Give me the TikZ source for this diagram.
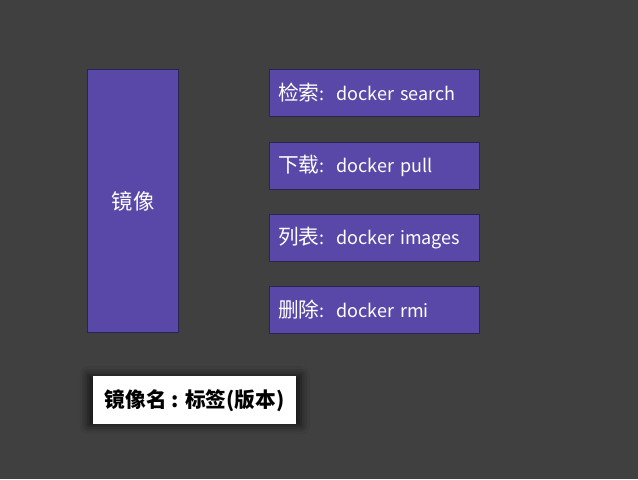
\documentclass[tikz,border=0pt]{standalone}
\usepackage{fontspec}
\setmainfont{Noto Sans CJK SC}
\usetikzlibrary{positioning,shadows.blur}
\definecolor{bgray}{HTML}{404040}
\definecolor{boxpurple}{HTML}{5A48A8}
\definecolor{boxedge}{HTML}{2B2452}
\newcommand{\zh}[1]{{\fontsize{15.5}{16}\selectfont #1}}
\tikzset{
  cmdbox/.style={draw=boxedge, line width=1pt, fill=boxpurple, text=white,
    anchor=north west, minimum width=157.5pt, minimum height=35pt,
    inner xsep=6pt, text width=145pt, align=left, font=\fontsize{13.5}{16}\selectfont},
  imgbox/.style={draw=boxedge, line width=1pt, fill=boxpurple, text=white,
    anchor=north west, minimum width=68pt, minimum height=197pt,
    font=\fontsize{16}{16}\selectfont},
  tagbox/.style={fill=white, text=black, anchor=north west,
    minimum width=152pt, minimum height=36pt, font=\bfseries\fontsize{15.5}{16}\selectfont,
    blur shadow={shadow xshift=0pt, shadow yshift=0pt, shadow blur radius=6pt,
      shadow opacity=70, shadow scale=1.05}}
}
\begin{document}
\begin{tikzpicture}[x=0.75pt,y=-0.75pt]
  %background
    \fill[bgray] (0,0) rectangle (638,479);
    \useasboundingbox (0,0) rectangle (638,479);
  %draw image box
    \node[imgbox] (img) at (87,69) {镜像};
  %draw command boxes
    \node[cmdbox] (search) at (269,69) {\zh{检索}:\ \ docker search};
    \node[cmdbox] (pull) at (269,142) {\zh{下载}:\ \ docker pull};
    \node[cmdbox] (images) at (269,214) {\zh{列表}:\ \ docker images};
    \node[cmdbox] (rmi) at (269,286) {\zh{删除}:\ \ docker rmi};
  %insert tag label
    \node[tagbox] (tag) at (93,376) {镜像名 : 标签(版本)};
\end{tikzpicture}
\end{document}
